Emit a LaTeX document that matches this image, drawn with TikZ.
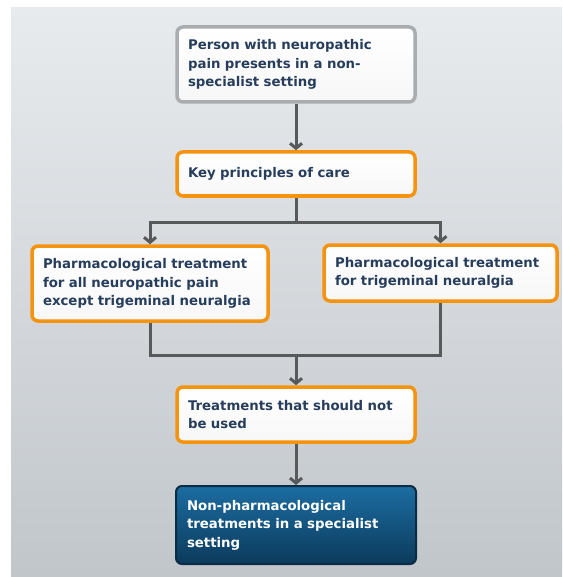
\documentclass[tikz,border=0pt]{standalone}
\usepackage{fontspec}
\setmainfont{DejaVu Sans}
\usepackage{tikz}
\usetikzlibrary{positioning,arrows.meta}
\usepackage{xcolor}
\definecolor{boxorange}{HTML}{F5930F}
\definecolor{boxgray}{HTML}{A9ADB0}
\definecolor{textnavy}{HTML}{263D5C}
\definecolor{conngray}{HTML}{58595B}
\definecolor{bgtop}{HTML}{E8EBEE}
\definecolor{bgbot}{HTML}{C1C6CA}
\definecolor{bluetop}{HTML}{1C6DA2}
\definecolor{bluebot}{HTML}{0C3A5B}
\definecolor{blueedge}{HTML}{0A2C44}

\begin{document}
\begin{tikzpicture}[x=1pt, y=-1pt, every node/.style={font=\bfseries\fontsize{13.3}{18.5}\selectfont}]
\tikzstyle{box}=[draw=boxorange, line width=3.5pt, rounded corners=6pt, top color=white, bottom color=blue!3!gray!6, text=textnavy, align=left, inner xsep=11pt, inner ysep=6pt]
\tikzstyle{conn}=[draw=conngray, line width=3pt]
\tikzstyle{arr}=[conn, -{Straight Barb[length=5pt, width=12pt, line width=3pt]}]
\useasboundingbox (0,0) rectangle (562,577);
\shade[top color=bgtop, bottom color=bgbot] (11,8) rectangle (562,577);
% boxes
\node[box, draw=boxgray, minimum width=238pt, minimum height=75pt, text width=216pt] (person) at (296,64.5) {Person with neuropathic\\pain presents in a non-\\specialist setting};
\node[box, minimum width=238pt, minimum height=44pt, text width=216pt] (keyprinc) at (296,174) {Key principles of care};
\node[box, minimum width=236pt, minimum height=75pt, text width=214pt] (pharmall) at (150,283.5) {Pharmacological treatment\\for all neuropathic pain\\except trigeminal neuralgia};
\node[box, minimum width=233pt, minimum height=56pt, text width=211pt] (pharmtn) at (440.5,273) {Pharmacological treatment\\for trigeminal neuralgia};
\node[box, minimum width=238pt, minimum height=55pt, text width=216pt] (notused) at (296,414.5) {Treatments that should not\\be used};
\node[box, draw=blueedge, line width=2pt, top color=bluetop, bottom color=bluebot, text=white, minimum width=240pt, minimum height=78pt, text width=218pt] (nonpharm) at (296,525) {Non-pharmacological\\treatments in a specialist\\setting};
% connectors
\coordinate (split) at (296,222);
\coordinate (merge) at (296,355);
\draw[arr] (person) -- (keyprinc);
\draw[conn] (keyprinc) -- (split);
\draw[arr] (split) -| (pharmall);
\draw[arr] (split) -| (pharmtn);
\draw[conn] (pharmall) |- (merge);
\draw[conn] (pharmtn) |- (merge);
\draw[arr] (merge) -- (notused);
\draw[arr] (notused) -- (nonpharm);
\end{tikzpicture}
\end{document}
